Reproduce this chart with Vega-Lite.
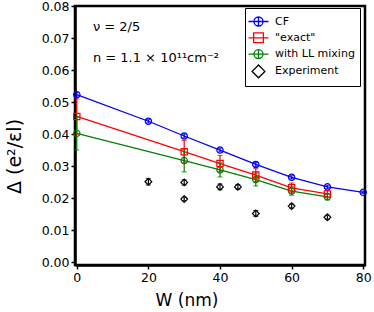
{
  "$schema": "https://vega.github.io/schema/vega-lite/v6.json",
  "autosize": {"type": "none"},
  "padding": {"left": 75, "top": 6, "right": 9, "bottom": 47},
  "width": 290,
  "height": 259,
  "config": {
    "font": "DejaVu Sans",
    "view": {"stroke": "black", "strokeWidth": 2.5},
    "axis": {
      "grid": false,
      "domainColor": "black",
      "domainWidth": 2.5,
      "tickColor": "black",
      "tickSize": 4,
      "tickWidth": 1.5,
      "labelFont": "DejaVu Sans",
      "labelFontSize": 12.5,
      "labelColor": "black",
      "labelOverlap": false,
      "titleFont": "DejaVu Sans",
      "titleFontSize": 17,
      "titleFontWeight": "normal",
      "titleColor": "black"
    }
  },
  "data": {
    "values": [
      {"series": "CF", "W": 0, "D": 0.0523, "lo": 0.0516, "hi": 0.0530},
      {"series": "CF", "W": 20, "D": 0.0440, "lo": 0.0435, "hi": 0.0445},
      {"series": "CF", "W": 30, "D": 0.0394, "lo": 0.0388, "hi": 0.0400},
      {"series": "CF", "W": 40, "D": 0.0350, "lo": 0.0344, "hi": 0.0356},
      {"series": "CF", "W": 50, "D": 0.0305, "lo": 0.0299, "hi": 0.0311},
      {"series": "CF", "W": 60, "D": 0.0265, "lo": 0.0260, "hi": 0.0270},
      {"series": "CF", "W": 70, "D": 0.0235, "lo": 0.0230, "hi": 0.0240},
      {"series": "CF", "W": 80, "D": 0.0218, "lo": 0.0214, "hi": 0.0222},
      {"series": "\"exact\"", "W": 0, "D": 0.0455, "lo": 0.0400, "hi": 0.0510},
      {"series": "\"exact\"", "W": 30, "D": 0.0345, "lo": 0.0310, "hi": 0.0380},
      {"series": "\"exact\"", "W": 40, "D": 0.0308, "lo": 0.0283, "hi": 0.0333},
      {"series": "\"exact\"", "W": 50, "D": 0.0272, "lo": 0.0252, "hi": 0.0292},
      {"series": "\"exact\"", "W": 60, "D": 0.0232, "lo": 0.0217, "hi": 0.0247},
      {"series": "\"exact\"", "W": 70, "D": 0.0213, "lo": 0.0203, "hi": 0.0223},
      {"series": "with LL mixing", "W": 0, "D": 0.0402, "lo": 0.0350, "hi": 0.0454},
      {"series": "with LL mixing", "W": 30, "D": 0.0317, "lo": 0.0282, "hi": 0.0352},
      {"series": "with LL mixing", "W": 40, "D": 0.0288, "lo": 0.0266, "hi": 0.0310},
      {"series": "with LL mixing", "W": 50, "D": 0.0258, "lo": 0.0238, "hi": 0.0278},
      {"series": "with LL mixing", "W": 60, "D": 0.0222, "lo": 0.0209, "hi": 0.0235},
      {"series": "with LL mixing", "W": 70, "D": 0.0204, "lo": 0.0194, "hi": 0.0214},
      {"series": "Experiment", "W": 20, "D": 0.0251, "lo": 0.0241, "hi": 0.0261},
      {"series": "Experiment", "W": 30, "D": 0.0249, "lo": 0.0241, "hi": 0.0257},
      {"series": "Experiment", "W": 30, "D": 0.0197, "lo": 0.0192, "hi": 0.0202},
      {"series": "Experiment", "W": 40, "D": 0.0235, "lo": 0.0226, "hi": 0.0244},
      {"series": "Experiment", "W": 45, "D": 0.0235, "lo": 0.0228, "hi": 0.0242},
      {"series": "Experiment", "W": 50, "D": 0.0152, "lo": 0.0143, "hi": 0.0161},
      {"series": "Experiment", "W": 60, "D": 0.0175, "lo": 0.0169, "hi": 0.0181},
      {"series": "Experiment", "W": 70, "D": 0.0140, "lo": 0.0134, "hi": 0.0146}
    ]
  },
  "layer": [
    {
      "transform": [{"filter": "datum.series != 'Experiment'"}],
      "mark": {"type": "line", "strokeWidth": 1.3, "clip": true},
      "encoding": {
        "x": {"field": "W", "type": "quantitative", "scale": {"domain": [-0.5, 80.5], "nice": false, "zero": false},
              "axis": {"values": [0, 20, 40, 60, 80], "title": "W (nm)", "titleX": 111.5, "titleY": 40, "titleAlign": "center", "titleBaseline": "alphabetic", "labelOverlap": false}},
        "y": {"field": "D", "type": "quantitative", "scale": {"domain": [-0.0009, 0.08], "nice": false, "zero": false},
              "axis": {"tickCount": 9, "format": ".2f", "title": "Δ (e²/εl)", "titleFontSize": 19, "titleX": -55, "titleY": 150, "titleAlign": "center", "titleBaseline": "alphabetic", "titleAngle": -90, "labelOverlap": false, "labelBound": false, "labelFlush": false}},
        "color": {
          "field": "series", "type": "nominal",
          "scale": {"domain": ["CF", "\"exact\"", "with LL mixing", "Experiment"], "range": ["#0000ff", "#ff0000", "#008000", "#000000"]},
          "legend": {
            "title": null,
            "orient": "none",
            "legendX": 170,
            "legendY": 2,
            "padding": 5,
            "strokeColor": "black",
            "fillColor": "white",
            "cornerRadius": 0,
            "symbolSize": 225,
            "symbolStrokeWidth": 1.3,
            "symbolFillColor": "transparent",
            "rowPadding": 0.3,
            "labelFontSize": 11,
            "labelFont": "DejaVu Sans",
            "labelColor": "black",
            "labelOffset": 8,
            "encode": {
              "symbols": {
                "update": {
                  "shape": {"signal": "datum.value === 'Experiment' ? 'M0,-0.85L0.85,0L0,0.85L-0.85,0Z' : (datum.value === 'CF' || datum.value === 'with LL mixing') ? 'M-1.33,0H1.33M0.6,0A0.6,0.6,0,1,1,-0.6,0A0.6,0.6,0,1,1,0.6,0ZM0,-0.6V0.6' : 'M-1.33,0H1.33M-0.65,-0.65H0.65V0.65H-0.65Z'"},
                  "fill": {"value": "transparent"},
                  "fillOpacity": {"value": 0}
                }
              }
            }
          }
        }
      }
    },
    {
      "mark": {"type": "rule", "strokeWidth": 1.2},
      "encoding": {
        "x": {"field": "W", "type": "quantitative"},
        "y": {"field": "lo", "type": "quantitative"},
        "y2": {"field": "hi"},
        "color": {"field": "series", "type": "nominal"}
      }
    },
    {
      "mark": {"type": "tick", "orient": "horizontal", "size": 5, "thickness": 1.2},
      "encoding": {
        "x": {"field": "W", "type": "quantitative"},
        "y": {"field": "lo", "type": "quantitative"},
        "color": {"field": "series", "type": "nominal"}
      }
    },
    {
      "mark": {"type": "tick", "orient": "horizontal", "size": 5, "thickness": 1.2},
      "encoding": {
        "x": {"field": "W", "type": "quantitative"},
        "y": {"field": "hi", "type": "quantitative"},
        "color": {"field": "series", "type": "nominal"}
      }
    },
    {
      "transform": [{"filter": "datum.series == 'CF' || datum.series == 'with LL mixing'"}],
      "mark": {"type": "point", "shape": "circle", "filled": false, "strokeWidth": 1.2, "size": 40, "opacity": 1},
      "encoding": {
        "x": {"field": "W", "type": "quantitative"},
        "y": {"field": "D", "type": "quantitative"},
        "color": {"field": "series", "type": "nominal"}
      }
    },
    {
      "transform": [{"filter": "datum.series == '\"exact\"'"}],
      "mark": {"type": "point", "shape": "square", "filled": false, "strokeWidth": 1.2, "size": 40, "opacity": 1},
      "encoding": {
        "x": {"field": "W", "type": "quantitative"},
        "y": {"field": "D", "type": "quantitative"},
        "color": {"field": "series", "type": "nominal"}
      }
    },
    {
      "transform": [{"filter": "datum.series == 'Experiment'"}],
      "mark": {"type": "point", "shape": "diamond", "filled": false, "strokeWidth": 1.2, "size": 45, "opacity": 1},
      "encoding": {
        "x": {"field": "W", "type": "quantitative"},
        "y": {"field": "D", "type": "quantitative"},
        "color": {"field": "series", "type": "nominal"}
      }
    },
    {
      "data": {"values": [
        {"label": "ν = 2/5", "W": 4.5, "D": 0.0734},
        {"label": "n = 1.1 × 10¹¹cm⁻²", "W": 4.5, "D": 0.0637}
      ]},
      "mark": {"type": "text", "align": "left", "baseline": "middle", "fontSize": 13, "font": "DejaVu Sans", "color": "black"},
      "encoding": {
        "x": {"field": "W", "type": "quantitative"},
        "y": {"field": "D", "type": "quantitative"},
        "text": {"field": "label"}
      }
    }
  ]
}
